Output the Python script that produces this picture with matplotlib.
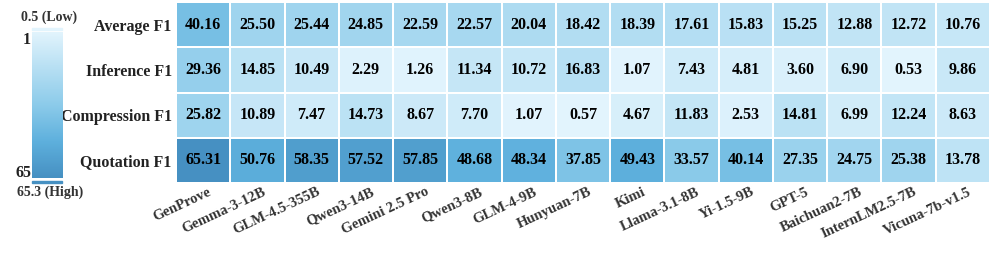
import matplotlib
matplotlib.use("Agg")
import matplotlib.pyplot as plt
import numpy as np
from matplotlib.colors import LinearSegmentedColormap, Normalize
from matplotlib.patches import Rectangle

models = ["GenProve", "Gemma-3-12B", "GLM-4.5-355B", "Qwen3-14B", "Gemini 2.5 Pro",
          "Qwen3-8B", "GLM-4-9B", "Hunyuan-7B", "Kimi", "Llama-3.1-8B", "Yi-1.5-9B",
          "GPT-5", "Baichuan2-7B", "InternLM2.5-7B", "Vicuna-7b-v1.5"]
rows = ["Average F1", "Inference F1", "Compression F1", "Quotation F1"]
average = [40.16, 25.50, 25.44, 24.85, 22.59, 22.57, 20.04, 18.42, 18.39, 17.61, 15.83, 15.25, 12.88, 12.72, 10.76]
inference = [29.36, 14.85, 10.49, 2.29, 1.26, 11.34, 10.72, 16.83, 1.07, 7.43, 4.81, 3.60, 6.90, 0.53, 9.86]
compression = [25.82, 10.89, 7.47, 14.73, 8.67, 7.70, 1.07, 0.57, 4.67, 11.83, 2.53, 14.81, 6.99, 12.24, 8.63]
quotation = [65.31, 50.76, 58.35, 57.52, 57.85, 48.68, 48.34, 37.85, 49.43, 33.57, 40.14, 27.35, 24.75, 25.38, 13.78]
vmin, vmax = 0.5, 65.3

data = np.array([average, inference, compression, quotation])

cmap = LinearSegmentedColormap.from_list(
    "bl", [(0.0, "#e2f4fd"), (0.25, "#b6dff3"), (0.5, "#8ccbea"), (0.75, "#5eb0dd"), (1.0, "#4690c2")])
norm = Normalize(vmin=vmin, vmax=vmax)

plt.rcParams["font.family"] = ["Liberation Serif", "DejaVu Serif"]
W, H = 996, 264
fig = plt.figure(figsize=(W / 100, H / 100), dpi=100)

ax = fig.add_axes([176 / W, 1 - 183 / H, (990 - 176) / W, (183 - 2) / H])
ax.pcolormesh(data, cmap=cmap, norm=norm, edgecolors="white", linewidth=1.3)
ax.set_xlim(0, len(models))
ax.set_ylim(len(rows), 0)
for i in range(len(rows)):
    for j in range(len(models)):
        ax.text(j + 0.5, i + 0.5, f"{data[i, j]:.2f}", ha="center", va="center",
                fontsize=11.5, fontweight="bold", color="black")
ax.set_yticks(np.arange(len(rows)) + 0.5)
ax.set_yticklabels(rows, fontsize=11.5, fontweight="bold", color="#222222")
# labels anchored slightly right of column centre, as in the reference
ax.set_xticks(np.arange(len(models)) + 0.5 + 0.14)
ax.set_xticklabels(models, rotation=25, ha="right", va="center", rotation_mode="anchor",
                   fontsize=10.5, fontweight="bold", color="#333333")
ax.tick_params(axis="x", length=0, pad=6)
ax.tick_params(axis="y", length=0, pad=3)
for s in ax.spines.values():
    s.set_visible(False)

# colorbar
cax = fig.add_axes([32 / W, 1 - 178 / H, 30 / W, (178 - 32) / H])
grad = np.linspace(vmin, vmax, 256).reshape(-1, 1)
cax.imshow(grad, aspect="auto", cmap=cmap, norm=norm, extent=[0, 1, vmax, vmin])
cax.set_xticks([])
cax.set_yticks([])
for s in cax.spines.values():
    s.set_visible(False)
fig.patches.append(Rectangle((32 / W, 1 - 29.5 / H), 30 / W, 2 / H, transform=fig.transFigure,
                             color=cmap(0.0), zorder=3))
fig.patches.append(Rectangle((32 / W, 1 - 183 / H), 30 / W, 2 / H, transform=fig.transFigure,
                             color=cmap(1.0), zorder=3))
fig.text(49 / W, 1 - 17 / H, "0.5 (Low)", ha="center", va="center", fontsize=10,
         fontweight="bold", color="#333333")
fig.text(50 / W, 1 - 192 / H, "65.3 (High)", ha="center", va="center", fontsize=10,
         fontweight="bold", color="#333333")
fig.text(31 / W, 1 - 40 / H, "1", ha="right", va="center", fontsize=11.5,
         fontweight="bold", color="#222222")
fig.text(32 / W, 1 - 173 / H, "65", ha="right", va="center", fontsize=11.5,
         fontweight="bold", color="#222222")

fig.savefig("out.png", dpi=100)
